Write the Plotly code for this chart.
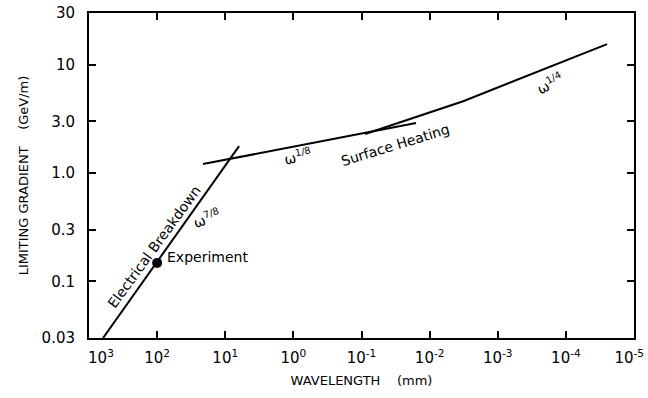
import plotly.graph_objects as go
import math

# ---- data (wavelength in mm, gradient in GeV/m) ----
breakdown_wl = [622, 6.27]
breakdown_g = [0.03, 1.77]

omega18_wl = [21.2, 0.0158]
omega18_g = [1.21, 2.89]

heating_wl = [0.0885, 0.00322, 2.48e-5]
heating_g = [2.29, 4.6, 15.5]

experiment_wl = [100]
experiment_g = [0.148]

x_tickvals = [1e3, 1e2, 1e1, 1e0, 1e-1, 1e-2, 1e-3, 1e-4, 1e-5]
x_ticktext = ["\u00a0\u00a0\u00a0\u00a0\u00a010<sup>3</sup>", "10<sup>2</sup>", "10<sup>1</sup>",
              "10<sup>0</sup>", "10<sup>-1</sup>", "10<sup>-2</sup>", "10<sup>-3</sup>",
              "10<sup>-4</sup>", "10<sup>-5</sup>\u00a0\u00a0"]
y_tickvals = [0.03, 0.1, 0.3, 1, 3, 10, 30]
y_ticktext = ["0.03", "0.1", "0.3", "1.0", "3.0", "10", "30"]

# label positions (wavelength, gradient, text, angle)
labels = [
    (111, 0.207, "Electrical Breakdown", -54),
    (18.5, 0.384, "ω<sup>7/8</sup>", -20),
    (18.0, 0.168, "Experiment", 0),
    (0.853, 1.436, "ω<sup>1/8</sup>", -12),
    (0.0321, 1.81, "Surface Heating", -17),
    (0.00017, 6.78, "ω<sup>1/4</sup>", -28),
]

FONT = "DejaVu Sans"
line_style = dict(color="black", width=2)

fig = go.Figure()
fig.add_trace(go.Scatter(x=breakdown_wl, y=breakdown_g, mode="lines", line=line_style))
fig.add_trace(go.Scatter(x=omega18_wl, y=omega18_g, mode="lines", line=line_style))
fig.add_trace(go.Scatter(x=heating_wl, y=heating_g, mode="lines", line=line_style))
fig.add_trace(go.Scatter(x=experiment_wl, y=experiment_g, mode="markers",
                         marker=dict(color="black", size=10)))

for wl, g, txt, ang in labels:
    fig.add_annotation(x=math.log10(wl), y=math.log10(g), text=txt, textangle=ang,
                       showarrow=False, font=dict(family=FONT, size=14, color="black"))

axis_common = dict(showline=True, linecolor="black", linewidth=2, mirror="ticks",
                   ticks="inside", ticklen=7, tickwidth=2, tickcolor="black",
                   showgrid=False, zeroline=False, automargin=False,
                   ticklabeloverflow="allow",
                   tickfont=dict(family=FONT, size=15, color="black"))

fig.update_xaxes(type="log", range=[3, -5], tickvals=x_tickvals, ticktext=x_ticktext,
                 ticklabelstandoff=5,
                 title=dict(text="WAVELENGTH    (mm)", font=dict(family=FONT, size=13, color="black"),
                            standoff=10),
                 **axis_common)
fig.update_yaxes(type="log", range=[math.log10(0.03), math.log10(30)], tickvals=y_tickvals,
                 ticktext=y_ticktext, ticklabelstandoff=9,
                 title=dict(text="LIMITING GRADIENT    (GeV/m)",
                            font=dict(family=FONT, size=13, color="black"), standoff=10),
                 **axis_common)

fig.update_layout(width=648, height=398, margin=dict(l=89, r=14, t=13, b=60),
                  paper_bgcolor="white", plot_bgcolor="white", showlegend=False)

# remove the default 8px page margin so the figure sits at the window's corner
fig.write_html("out.html", config={"displayModeBar": False},
               post_script="document.body.style.margin='0';")
